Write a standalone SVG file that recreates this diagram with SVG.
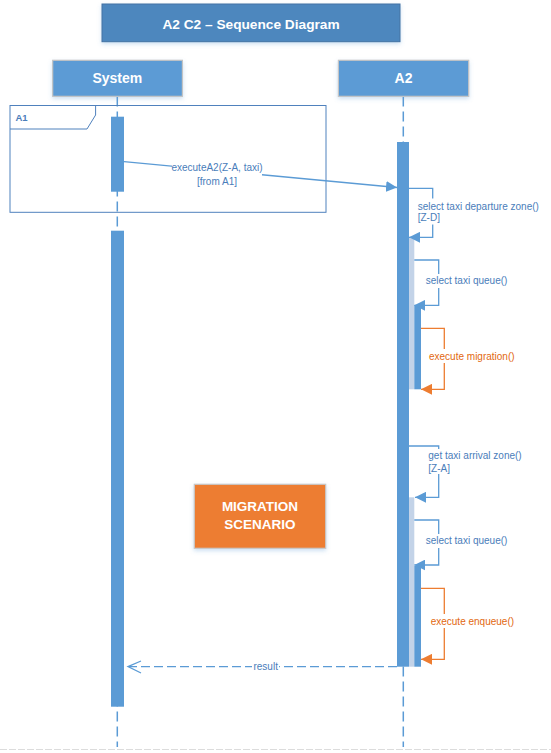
<svg xmlns="http://www.w3.org/2000/svg" width="551" height="753" viewBox="0 0 551 753">
<style>
.hdr{font-family:"Liberation Sans",Arial,sans-serif;font-weight:bold;fill:#ffffff;text-anchor:middle}
.lbl{font-family:"Liberation Sans",Arial,sans-serif;font-size:10px;fill:#4a7dba}
.olbl{font-family:"Liberation Sans",Arial,sans-serif;font-size:10px;fill:#e2680f}
.life{stroke:#5b9bd5;stroke-width:1.5;stroke-dasharray:10,5;fill:none}
.msg{stroke:#5b9bd5;stroke-width:1.3;fill:none}
.omsg{stroke:#ed7d31;stroke-width:1.3;fill:none}
.bar{fill:#5b9bd5}
.lbar{fill:#c3d3e8}
.bg{fill:#ffffff}
</style>
<defs>
<filter id="sh" x="-10%" y="-20%" width="120%" height="160%">
<feDropShadow dx="0" dy="2" stdDeviation="2" flood-color="#5b9bd5" flood-opacity="0.3"/>
</filter>
<marker id="ab" viewBox="0 0 10 10" refX="10" refY="5" markerWidth="11" markerHeight="11" markerUnits="userSpaceOnUse" orient="auto">
<path d="M0,0 L10,5 L0,10 z" fill="#5b9bd5"/>
</marker>
<marker id="ao" viewBox="0 0 10 10" refX="10" refY="5" markerWidth="11" markerHeight="11" markerUnits="userSpaceOnUse" orient="auto">
<path d="M0,0 L10,5 L0,10 z" fill="#ed7d31"/>
</marker>
</defs>
<rect width="551" height="753" fill="#ffffff"/>
<line x1="0" y1="749.5" x2="551" y2="749.5" stroke="#dcdcdc" stroke-width="1" stroke-dasharray="7,2"/>

<g id="title">
<rect x="102" y="4" width="298" height="37.7" fill="#4e87be" stroke="#4372a3" stroke-width="1" filter="url(#sh)"/>
<text class="hdr" x="251" y="28.5" font-size="13.7">A2 C2 – Sequence Diagram</text>
</g>

<g id="lifelines">
<line class="life" x1="117.3" y1="96.5" x2="117.3" y2="747"/>
<line class="life" x1="403.3" y1="96.5" x2="403.3" y2="747"/>
</g>

<g id="frame-A1">
<rect x="10" y="105.5" width="316" height="106.8" fill="none" stroke="#4f81bd" stroke-width="1"/>
<path d="M10,129 H87 L95.6,115 V105.5" fill="none" stroke="#4f81bd" stroke-width="1"/>
<text x="15.5" y="120.5" font-family="Liberation Sans,Arial,sans-serif" font-size="9.5" font-weight="bold" fill="#4a7dba">A1</text>
</g>

<g id="System">
<rect x="52.7" y="60.3" width="129.7" height="36" fill="#5b9bd5" stroke="#c4c4c4" stroke-width="1.2" filter="url(#sh)"/>
<text class="hdr" x="117.3" y="83" font-size="14">System</text>
<rect class="bar" x="111" y="116.7" width="13" height="75"/>
<rect class="bar" x="111" y="230.7" width="13" height="476"/>
</g>

<g id="A2">
<rect x="338.4" y="60.3" width="130.3" height="36" fill="#5b9bd5" stroke="#c4c4c4" stroke-width="1.2" filter="url(#sh)"/>
<text class="hdr" x="403.5" y="83" font-size="14">A2</text>
<rect class="bar" x="397" y="142" width="12" height="524.7"/>
<rect class="lbar" x="409" y="237.3" width="5.3" height="152"/>
<rect class="bar" x="414.3" y="305.3" width="6.7" height="84"/>
<rect class="lbar" x="409" y="497.3" width="5.3" height="169.4"/>
<rect class="bar" x="414.3" y="566" width="6.7" height="100.7"/>
</g>

<g id="migration-scenario">
<rect x="194.3" y="484.3" width="131.4" height="64" fill="#ed7d31" stroke="#c8c8c8" stroke-width="1.2" filter="url(#sh)"/>
<text class="hdr" x="260" y="510.5" font-size="13.5">MIGRATION</text>
<text class="hdr" x="260" y="529" font-size="13.5">SCENARIO</text>
</g>

<g id="connectors">
<path class="msg" d="M124,161.7 L397,187.5" marker-end="url(#ab)"/>
<rect class="bg" x="172" y="160" width="90" height="27"/>
<text class="lbl" x="217" y="171.2" text-anchor="middle">executeA2(Z-A, taxi)</text>
<text class="lbl" x="217" y="184.5" text-anchor="middle">[from A1]</text>

<path class="msg" d="M409,188.3 H432.7 V237.3 H409" marker-end="url(#ab)"/>
<rect class="bg" x="416" y="198.5" width="122" height="26"/>
<text class="lbl" x="417.7" y="209.5">select taxi departure zone()</text>
<text class="lbl" x="417.7" y="221">[Z-D]</text>

<path class="msg" d="M414.3,260 H438.7 V305.3 H414.3" marker-end="url(#ab)"/>
<rect class="bg" x="424" y="274" width="82" height="14"/>
<text class="lbl" x="425.7" y="284.3">select taxi queue()</text>

<path class="omsg" d="M421,328.3 H444.3 V389.3 H421" marker-end="url(#ao)"/>
<rect class="bg" x="427" y="349" width="90" height="14"/>
<text class="olbl" x="429" y="359.6">execute migration()</text>

<path class="msg" d="M409,446 H438.7 V497.3 H415" marker-end="url(#ab)"/>
<rect class="bg" x="426.5" y="449" width="98" height="25"/>
<text class="lbl" x="428.3" y="458.6">get taxi arrival zone()</text>
<text class="lbl" x="428.3" y="471.8">[Z-A]</text>

<path class="msg" d="M414.3,520 H438.7 V565 H414.3" marker-end="url(#ab)"/>
<rect class="bg" x="424" y="534" width="82" height="14"/>
<text class="lbl" x="425.7" y="544.3">select taxi queue()</text>

<path class="omsg" d="M421,588.3 H444.3 V659.3 H421" marker-end="url(#ao)"/>
<rect class="bg" x="429" y="614" width="84" height="14"/>
<text class="olbl" x="430.7" y="624.6">execute enqueue()</text>

<path class="msg" d="M397,666.6 H129" stroke-dasharray="9,4"/>
<path class="msg" d="M141,661 L128,666.6 L141,673"/>
<rect class="bg" x="252" y="660" width="27" height="13"/>
<text class="lbl" x="265.7" y="669.8" text-anchor="middle">result</text>
</g>
</svg>
